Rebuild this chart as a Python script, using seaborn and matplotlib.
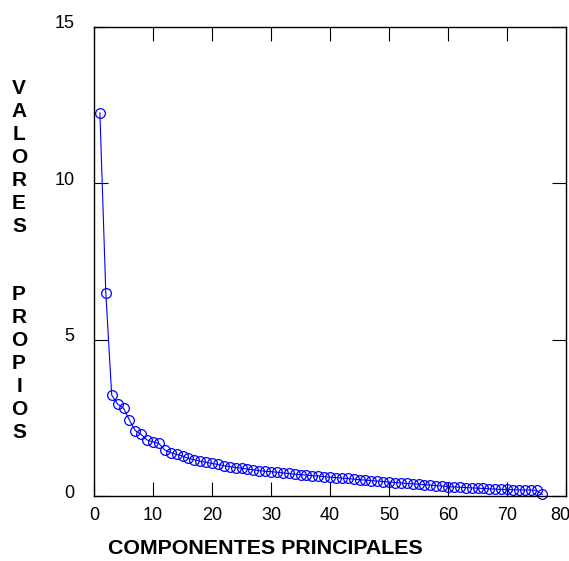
import matplotlib
matplotlib.use("Agg")
import matplotlib.pyplot as plt
import matplotlib.transforms as mtransforms
import seaborn as sns
import pandas as pd

# Eigenvalues of the principal components, in decreasing order
componentes = list(range(1, 77))
valores_propios = [
    12.26, 6.50, 3.23, 2.94, 2.81, 2.43, 2.09, 1.97, 1.79, 1.73,
    1.68, 1.47, 1.39, 1.33, 1.28, 1.20, 1.16, 1.11, 1.08, 1.04,
    1.01, 0.97, 0.94, 0.91, 0.89, 0.86, 0.84, 0.81, 0.79, 0.78,
    0.76, 0.74, 0.72, 0.70, 0.68, 0.67, 0.65, 0.64, 0.62, 0.60,
    0.59, 0.57, 0.56, 0.54, 0.52, 0.51, 0.49, 0.48, 0.46, 0.45,
    0.43, 0.42, 0.40, 0.39, 0.38, 0.36, 0.35, 0.33, 0.32, 0.30,
    0.29, 0.28, 0.27, 0.26, 0.25, 0.24, 0.23, 0.22, 0.21, 0.21,
    0.20, 0.20, 0.19, 0.19, 0.18, 0.05,
]
x_ticks = [0, 10, 20, 30, 40, 50, 60, 70, 80]
y_ticks = [0, 5, 10, 15]
x_label = "COMPONENTES PRINCIPALES"
y_label = "VALORES  PROPIOS"

sns.set_theme(style="white")
plt.rcParams["font.family"] = ["Liberation Sans", "DejaVu Sans"]
plt.rcParams.update({
    "xtick.bottom": True, "xtick.top": True,
    "ytick.left": True, "ytick.right": True,
    "xtick.direction": "in", "ytick.direction": "in",
    "xtick.major.size": 10, "ytick.major.size": 10,
    "xtick.major.width": 0.8, "ytick.major.width": 0.8,
    "xtick.color": "black", "ytick.color": "black",
})

df = pd.DataFrame({"comp": componentes, "valor": valores_propios})

fig = plt.figure(figsize=(5.69, 5.61), dpi=100)
ax = fig.add_axes([94 / 569, 65 / 561, 472 / 569, 469 / 561])

sns.lineplot(
    data=df, x="comp", y="valor", ax=ax,
    color="#0000FF", linewidth=0.8,
    marker="o", markersize=7, markerfacecolor="none",
    markeredgecolor="#0000FF", markeredgewidth=0.9,
    clip_on=False,
)

ax.set_xlim(0, 80)
ax.set_ylim(0, 15)
ax.set_xticks(x_ticks)
ax.set_yticks(y_ticks)
ax.set_xlabel("")
ax.set_ylabel("")

for side in ["left", "right", "top", "bottom"]:
    ax.spines[side].set_visible(True)
    ax.spines[side].set_color("black")
    ax.spines[side].set_linewidth(1.0)

ax.tick_params(axis="both", which="major", direction="in", length=10,
               width=0.8, color="black", labelsize=13, labelcolor="black",
               top=True, right=True, bottom=True, left=True,
               labeltop=False, labelright=False,
               labelbottom=True, labelleft=True)
ax.tick_params(axis="y", pad=14)
ax.tick_params(axis="x", pad=8)

# y tick labels sit slightly above their ticks
shift = mtransforms.ScaledTranslation(0, 5 / 100, fig.dpi_scale_trans)
for lbl in ax.get_yticklabels():
    lbl.set_transform(lbl.get_transform() + shift)

# keep the last x tick label inside the figure
xlabels = ax.get_xticklabels()
xlabels[-1].set_horizontalalignment("right")
xlabels[-1].set_transform(xlabels[-1].get_transform()
                          + mtransforms.ScaledTranslation(4 / 100, 0, fig.dpi_scale_trans))

fig.text(265 / 569, 1 - 549 / 561, x_label, ha="center", va="center",
         fontsize=15.4, fontweight="bold", color="black")

stacked = "\n".join(list(y_label))
fig.text(19 / 569, 1 - 260.5 / 561, stacked, ha="center", va="center",
         fontsize=15, fontweight="bold", color="black", linespacing=1.265)

fig.savefig("out.png", dpi=100, facecolor="white")
